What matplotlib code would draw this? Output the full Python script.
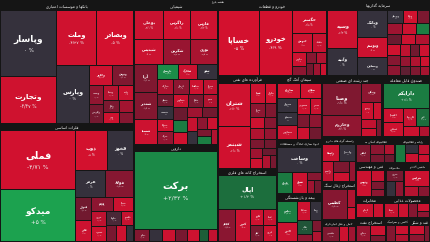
import matplotlib
matplotlib.use('Agg')
import matplotlib.pyplot as plt
from matplotlib.patches import Rectangle
import numpy as np

plt.rcParams['font.family'] = ['DejaVu Sans']

# ---------------- data (size ~ market value, change in %) ----------------
market_title = 'نقشه بازار'

bank_title = 'بانکها و موسسات اعتباری'
bank_names = ['وپاسار', 'وتجارت', 'وملت', 'وبصادر', 'وپارس', 'وخاور', 'ونوین', 'وپست',
              'وگردش', 'وسینا', 'وآیند', 'وکار', 'ودی', 'وحکمت', 'وکوثر']
bank_sizes = [3700, 2565, 2180, 2030, 1850, 460, 430, 260, 250, 220, 220, 200, 180, 160, 150]
bank_changes = [0, -4.47, -4.37, -5, 0, -4.1, -1.6, -2.1, -1.3, -3.2, -4, -1.5, -4.4, -2.6, -1.8]

metal_title = 'فلزات اساسی'
metal_names = ['فملی', 'میدکو', 'ذوب', 'فخوز', 'هرمز', 'فولاد', 'فنوال', 'فاذر', 'فجام',
               'فپنتا', 'فروی', 'فسرب', 'فلوله', 'فگستر', 'فسپا', 'فرآور', 'فتوسا']
metal_sizes = [4300, 3870, 1240, 1040, 775, 730, 370, 330, 300, 280, 230, 230, 200, 180, 150, 150, 120]
metal_changes = [-4.71, 5, -5, 0, 0, -1.8, -1.2, -4, -2, -4.2, -3.5, -4.4, -0.4, -3.8, -1.4, -4, 0]

chem_title = 'شیمیایی'
chem_names = ['بوعلی', 'زاگرس', 'فارس', 'شپدیس', 'شکربن', 'نوری', 'آریا', 'شغدیر', 'شسپا',
              'پارسان', 'شخارک', 'شفن', 'شاراک', 'کرمان', 'شپاکسا',
              'شیراز', 'شملی', 'شصدف', 'شتوکا', 'شزنگ', 'شفارس', 'شکلر', 'شجم', 'شصفها', 'شبصیر',
              'شلعاب', 'شسینا', 'شپارس', 'شرنگی', 'شفا', 'شگل', 'شکف', 'شدوص', 'شنفت', 'شوینده']
chem_sizes = [840, 780, 760, 700, 690, 650, 625, 600, 550,
              320, 300, 300, 240, 225, 210,
              200, 200, 200, 200, 200, 200, 190, 180, 170, 170,
              160, 150, 150, 140, 130, 120, 110, 100, 100, 90]
chem_changes = [-3.9, -4.6, -4.2, -4, -2.3, -2.8, -1.6, -1.7, -4,
                2.5, -4, 0, -3, -2, -4.1,
                -3.5, -1.2, 0, -4.5, -2.2, -4, -1.5, -3, -1, 1.6,
                -4.5, -2.5, -1.2, -3.8, 0, -2, -4, -1.5, 1.8, -3]

drug_title = 'دارویی'
drug_names = ['برکت', 'دجابر', 'دسبحا', 'داسوه', 'دلر', 'دفارا', 'دعبید', 'دکیمی']
drug_sizes = [6300, 180, 160, 150, 150, 140, 120, 100]
drug_changes = [2.32, -1.7, 0, -4, -1.4, -4.2, 0.8, -3.6]

auto_title = 'خودرو و قطعات'
auto_names = ['خساپا', 'خودرو', 'خگستر', 'خبهمن', 'خکمک', 'خپارس', 'خموتور', 'خریخت',
              'خزامیا', 'خمحرکه', 'خفنر', 'خکاوه']
auto_sizes = [2665, 2145, 775, 400, 265, 190, 130, 110, 100, 90, 80, 70]
auto_changes = [-5, -4.9, -4.5, -4, -3.8, -4, -2, -1.8, -3, -1.2, -2.5, -4]

invest_title = 'سرمایه گذاریها'
invest_names = ['وسپه', 'وآتیه', 'وبانک', 'وتوسم', 'ومعادن', 'وبوعلی', 'وتوکا', 'ونیرو',
                'وصنعت', 'وغدیر', 'وامید', 'ونفت', 'وسکاب', 'وبهمن', 'وسدید', 'وسمگا', 'ورنا',
                'وکغدیر', 'وشمال', 'وسنا', 'وآذر', 'وملل', 'وطوبی', 'وسخراج', 'وسرود', 'وکبهمن']
invest_sizes = [1150, 840, 815, 595, 545, 200, 190, 160, 150, 150, 140, 140, 140, 140,
                130, 130, 120, 120, 110, 110, 110, 100, 100, 90, 90, 80]
invest_changes = [-4.2, 0, 0, -4, 0, 0, -4.5, -1.5, -2.5, -4, 1.8, -1, -4, -3,
                  -4.5, -1.8, -2, -3.5, -1.2, -4, -2.2, -0.8, -3, -4.3, -1.6, -2.7]

oil_title = 'فرآورده های نفتی'
oil_names = ['شتران', 'شبندر', 'شپنا', 'شاوان', 'شراز', 'نفتا', 'ایرانول', 'شرانل', 'شلرد',
             'شنیرو', 'شگویا', 'شکام', 'شپترو', 'شفام', 'شاملا', 'شتوس', 'شجین']
oil_sizes = [1400, 1330, 306, 220, 200, 160, 150, 140, 140, 130, 130, 120, 120, 110, 100, 90, 80]
oil_changes = [-4.4, -4.6, -4, -4.5, -2, -1.6, -4, -1.8, -3, -2.2, -1.5, -1.2, -2.5, -4, -1, -3, -1.4]

ore_title = 'استخراج کانه های فلزی'
ore_names = ['اپال', 'کچاد', 'کنور', 'کگهر', 'کدما', 'کگل', 'کروی']
ore_sizes = [1940, 540, 510, 216, 216, 200, 200]
ore_changes = [1.2, -1.9, -4, -4.2, -3.8, -1.5, -4]

cement_title = 'سیمان آهک گچ'
cement_names = ['ساروم', 'سفانو', 'سبهان', 'سیدکو', 'سفارس', 'سصوفی', 'سخزر', 'ستران',
                'سشرق', 'سغرب', 'سهگمت']
cement_sizes = [342, 306, 272, 272, 270, 216, 190, 160, 150, 150, 140]
cement_changes = [-4.3, -4.5, 0, 0, -4, -4.4, -3.9, -1.5, -2, -4, -1.2]

build_title = 'انبوه سازی املاک و مستغلات'
build_names = ['وساخت', 'ثامان', 'ثشرق', 'ثنوسا', 'ثباغ', 'ثاخت']
build_sizes = [1110, 323, 306, 110, 100, 90]
build_changes = [0, 1.5, -4, -1.8, -2.5, -1.2]

insur_title = 'بیمه و بازنشستگی'
insur_names = ['بپاس', 'البرز', 'بساما', 'ودانا', 'بکاب', 'بما', 'بنو', 'بالبر']
insur_sizes = [418, 375, 266, 204, 204, 110, 100, 90]
insur_changes = [1.8, -4, -4.2, 0, 0.6, -2, -1.5, -3]

multi_title = 'چند رشته ای صنعتی'
multi_names = ['وصنا', 'وخارزم', 'ونیکی', 'وپترو', 'وسپهر', 'ومشان', 'وپویا', 'وسپا']
multi_sizes = [1260, 825, 384, 200, 150, 144, 120, 100]
multi_changes = [-1.6, -2.1, -2, -4, -4.2, -3.6, -4, -1.5]

etf_title = 'صندوق قابل معامله'
etf_names = ['دارایکم', 'اعتماد', 'آساس', 'کاریزما', 'افق', 'سرو', 'آوند']
etf_sizes = [1170, 300, 290, 240, 230, 160, 100]
etf_changes = [1.6, -4, -4.3, -3.8, 1.2, -4, -3]

fin_title = 'واسطه گری های مالی و پولی'
fin_names = ['ولساپا', 'واعتبار', 'ولصنم', 'ولملت', 'وکادو', 'ولتجار']
fin_sizes = [300, 280, 220, 180, 150, 120]
fin_changes = [-4, 0, -3.5, -1.5, -4, -2.2]

aux_title = 'فعالیتهای کمکی به نهادهای مالی'
aux_names = ['اطلس', 'آپ', 'ثبات', 'آرمان', 'کاریز']
aux_sizes = [250, 150, 120, 100, 80]
aux_changes = [-1.6, -2, -1.4, -3, -1]

it_title = 'رایانه و فعالیتهای وابسته'
it_names = ['اپرداز', 'سپ', 'رتاپ', 'مداران', 'فن آوا']
it_sizes = [180, 130, 120, 110, 90]
it_changes = [1.5, 0, -4, -3.5, -4]

eng_title = 'فنی و مهندسی'
eng_names = ['وتوس', 'بالاس', 'وبنا', 'کربن']
eng_sizes = [400, 150, 120, 86]
eng_changes = [-4, -3.8, -1.5, -2]

metalprod_title = 'محصولات فلزی'
metalprod_names = ['فنرژی', 'تاپکیش', 'تکنو']
metalprod_sizes = [200, 150, 120]
metalprod_changes = [-1.3, 0, -2]

elec_title = 'ماشین آلات و دستگاههای برقی'
elec_names = ['بترانس', 'بنیرو', 'بموتو']
elec_sizes = [420, 140, 110]
elec_changes = [-4, -3.2, -1.8]

coal_title = 'استخراج زغال سنگ'
coal_names = ['کطبس', 'کپرور', 'کزغال']
coal_sizes = [750, 150, 100]
coal_changes = [-1.8, -3, -4]

tele_title = 'مخابرات'
tele_names = ['اخابر', 'همراه']
tele_sizes = [250, 150]
tele_changes = [-4, -4.2]

food_title = 'محصولات غذایی'
food_names = ['غشاد', 'غبشهر', 'غمارگ', 'غگرجی', 'غپاک']
food_sizes = [200, 150, 120, 100, 80]
food_changes = [-3.8, -4, -1.8, -4.2, -2]

trans_title = 'حمل و نقل انبارداری'
trans_names = ['حکشتی', 'حفارس', 'حتوکا']
trans_sizes = [250, 150, 100]
trans_changes = [-1.6, -4, -2.5]

oilx_title = 'استخراج نفت'
oilx_names = ['حفاری', 'وانفت', 'اوان']
oilx_sizes = [220, 150, 100]
oilx_changes = [-2.3, -4, -1.5]

ceramic_title = 'کاشی و سرامیک'
ceramic_names = ['کساوه', 'کسعدی', 'کحافظ']
ceramic_sizes = [150, 120, 100]
ceramic_changes = [-1.7, -4, -3]

sugar_title = 'قند و شکر'
sugar_names = ['قثابت', 'قشکر', 'قنیشا']
sugar_sizes = [130, 110, 90]
sugar_changes = [-4, -2, -1.5]

sectors = {
    'bank': (bank_title, bank_names, bank_sizes, bank_changes),
    'metal': (metal_title, metal_names, metal_sizes, metal_changes),
    'chem': (chem_title, chem_names, chem_sizes, chem_changes),
    'drug': (drug_title, drug_names, drug_sizes, drug_changes),
    'auto': (auto_title, auto_names, auto_sizes, auto_changes),
    'invest': (invest_title, invest_names, invest_sizes, invest_changes),
    'oil': (oil_title, oil_names, oil_sizes, oil_changes),
    'ore': (ore_title, ore_names, ore_sizes, ore_changes),
    'cement': (cement_title, cement_names, cement_sizes, cement_changes),
    'build': (build_title, build_names, build_sizes, build_changes),
    'insur': (insur_title, insur_names, insur_sizes, insur_changes),
    'multi': (multi_title, multi_names, multi_sizes, multi_changes),
    'etf': (etf_title, etf_names, etf_sizes, etf_changes),
    'fin': (fin_title, fin_names, fin_sizes, fin_changes),
    'aux': (aux_title, aux_names, aux_sizes, aux_changes),
    'it': (it_title, it_names, it_sizes, it_changes),
    'eng': (eng_title, eng_names, eng_sizes, eng_changes),
    'metalprod': (metalprod_title, metalprod_names, metalprod_sizes, metalprod_changes),
    'elec': (elec_title, elec_names, elec_sizes, elec_changes),
    'coal': (coal_title, coal_names, coal_sizes, coal_changes),
    'tele': (tele_title, tele_names, tele_sizes, tele_changes),
    'food': (food_title, food_names, food_sizes, food_changes),
    'trans': (trans_title, trans_names, trans_sizes, trans_changes),
    'oilx': (oilx_title, oilx_names, oilx_sizes, oilx_changes),
    'ceramic': (ceramic_title, ceramic_names, ceramic_sizes, ceramic_changes),
    'sugar': (sugar_title, sugar_names, sugar_sizes, sugar_changes),
}

# how the sectors are grouped ('h' = side by side, 'v' = stacked)
groups = ('h', [
    ('v', ['bank', 'metal']),
    ('v', ['chem', 'drug']),
    ('v', [
        ('h', ['auto', 'invest']),
        ('h', [
            ('v', ['oil', 'ore']),
            ('v', ['cement', 'build', 'insur']),
            ('v', [
                ('h', ['multi', 'etf']),
                ('h', [
                    ('v', ['fin', 'coal', 'trans']),
                    ('v', [('h', ['aux', 'it']),
                           ('h', ['eng', 'metalprod', 'elec']),
                           ('h', ['tele', 'food']),
                           ('h', ['oilx', 'ceramic', 'sugar'])]),
                ]),
            ]),
        ]),
    ]),
])
first_strip = {'oil': 'col'}

# ---------------- persian shaping (matplotlib has no bidi) ----------------
_forms = {
    'آ': (0xFE81, 0xFE82, None, None), 'أ': (0xFE83, 0xFE84, None, None),
    'ؤ': (0xFE85, 0xFE86, None, None), 'ئ': (0xFE89, 0xFE8A, 0xFE8B, 0xFE8C),
    'ا': (0xFE8D, 0xFE8E, None, None), 'ب': (0xFE8F, 0xFE90, 0xFE91, 0xFE92),
    'ة': (0xFE93, 0xFE94, None, None), 'ت': (0xFE95, 0xFE96, 0xFE97, 0xFE98),
    'ث': (0xFE99, 0xFE9A, 0xFE9B, 0xFE9C), 'ج': (0xFE9D, 0xFE9E, 0xFE9F, 0xFEA0),
    'ح': (0xFEA1, 0xFEA2, 0xFEA3, 0xFEA4), 'خ': (0xFEA5, 0xFEA6, 0xFEA7, 0xFEA8),
    'د': (0xFEA9, 0xFEAA, None, None), 'ذ': (0xFEAB, 0xFEAC, None, None),
    'ر': (0xFEAD, 0xFEAE, None, None), 'ز': (0xFEAF, 0xFEB0, None, None),
    'س': (0xFEB1, 0xFEB2, 0xFEB3, 0xFEB4), 'ش': (0xFEB5, 0xFEB6, 0xFEB7, 0xFEB8),
    'ص': (0xFEB9, 0xFEBA, 0xFEBB, 0xFEBC), 'ض': (0xFEBD, 0xFEBE, 0xFEBF, 0xFEC0),
    'ط': (0xFEC1, 0xFEC2, 0xFEC3, 0xFEC4), 'ظ': (0xFEC5, 0xFEC6, 0xFEC7, 0xFEC8),
    'ع': (0xFEC9, 0xFECA, 0xFECB, 0xFECC), 'غ': (0xFECD, 0xFECE, 0xFECF, 0xFED0),
    'ف': (0xFED1, 0xFED2, 0xFED3, 0xFED4), 'ق': (0xFED5, 0xFED6, 0xFED7, 0xFED8),
    'ك': (0xFED9, 0xFEDA, 0xFEDB, 0xFEDC), 'ل': (0xFEDD, 0xFEDE, 0xFEDF, 0xFEE0),
    'م': (0xFEE1, 0xFEE2, 0xFEE3, 0xFEE4), 'ن': (0xFEE5, 0xFEE6, 0xFEE7, 0xFEE8),
    'ه': (0xFEE9, 0xFEEA, 0xFEEB, 0xFEEC), 'و': (0xFEED, 0xFEEE, None, None),
    'ي': (0xFEF1, 0xFEF2, 0xFEF3, 0xFEF4), 'پ': (0xFB56, 0xFB57, 0xFB58, 0xFB59),
    'چ': (0xFB7A, 0xFB7B, 0xFB7C, 0xFB7D), 'ژ': (0xFB8A, 0xFB8B, None, None),
    'ک': (0xFB8E, 0xFB8F, 0xFB90, 0xFB91), 'گ': (0xFB92, 0xFB93, 0xFB94, 0xFB95),
    'ی': (0xFBFC, 0xFBFD, 0xFBFE, 0xFBFF),
}
_lamalef = {'ا': (0xFEFB, 0xFEFC), 'آ': (0xFEF5, 0xFEF6)}


def joins_next(c):
    return c in _forms and _forms[c][2] is not None


def shape(text):
    out = []
    i = 0
    while i < len(text):
        c = text[i]
        prev = text[i - 1] if i > 0 else ''
        nxt = text[i + 1] if i + 1 < len(text) else ''
        p = joins_next(prev)
        if c == 'ل' and nxt in _lamalef:
            out.append(chr(_lamalef[nxt][1 if p else 0]))
            i += 2
            continue
        if c not in _forms:
            out.append(c)
            i += 1
            continue
        iso, fin, ini, med = _forms[c]
        q = ini is not None and nxt in _forms
        g = med if (p and q) else fin if p else ini if q else iso
        out.append(chr(g))
        i += 1
    return ''.join(reversed(out))


def fa_pct(v):
    if v == 0:
        return '۰ %'
    s = f'{abs(v):g}'.replace('.', '/')
    s = s.translate(str.maketrans('0123456789', '۰۱۲۳۴۵۶۷۸۹'))
    return ('+' if v > 0 else '-') + s + ' %'


# ---------------- colours ----------------
stops = [-5, -4, -3, -2, -1, 0, 0.7, 1.5, 2.5, 5]
stop_cols = ['#d3112e', '#cc1230', '#b01330', '#8d1631', '#6a1a2f', '#35313c',
             '#1d5a37', '#1b7a41', '#1b8c48', '#1ca24f']
stop_rgb = np.array([matplotlib.colors.to_rgb(c) for c in stop_cols])


def colour(v):
    return tuple(np.interp(v, stops, stop_rgb[:, k]) for k in range(3))


# ---------------- layout ----------------
W, H = 430, 242
TOP = 3.0
HEAD = 7.0


def weight(node, widths):
    if isinstance(node, str):
        return sum(sectors[node][2]) + HEAD * widths.get(node, 0)
    return sum(weight(k, widths) for k in node[1])


def place(node, x, y, w, h, out, widths):
    if isinstance(node, str):
        out[node] = (x, y, w, h)
        return
    d, kids = node
    ws = [weight(k, widths) for k in kids]
    tot = sum(ws)
    for k, wt in zip(kids, ws):
        if d == 'h':
            kw = w * wt / tot
            place(k, x, y, kw, h, out, widths)
            x += kw
        else:
            kh = h * wt / tot
            place(k, x, y, w, kh, out, widths)
            y += kh


def worst(row, short):
    s = sum(row)
    return max(max(short * short * r / (s * s), s * s / (short * short * r)) for r in row)


def squarify(vals, x, y, w, h, first=None):
    tot = sum(vals)
    areas = [v * w * h / tot for v in vals]
    rects = []
    i = 0
    while i < len(areas):
        vertical = (w >= h) if first is None else (first == 'col')
        first = None
        short = h if vertical else w
        row = [areas[i]]
        j = i + 1
        while j < len(areas) and worst(row + [areas[j]], short) <= worst(row, short):
            row.append(areas[j])
            j += 1
        s = sum(row)
        if vertical:
            cw = s / h
            yy = y
            for a in row:
                rects.append((x, yy, cw, a / cw))
                yy += a / cw
            x += cw
            w -= cw
        else:
            rh = s / w
            xx = x
            for a in row:
                rects.append((xx, y, a / rh, rh))
                xx += a / rh
            y += rh
            h -= rh
        i = j
    return rects


def fit_header(title, width):
    # shrink, then drop trailing words, until the header fits its sector
    words = title.split()
    fs = 2.8
    est = lambda ws, f: len(' '.join(ws)) * 0.5 * f * 1.39
    while fs > 2.1 and est(words, fs) > width - 3:
        fs -= 0.1
    while len(words) > 1 and est(words, fs) > width - 3:
        words = words[:-1]
    return ' '.join(words), fs


widths = {}
boxes = {}
for _ in range(6):
    boxes = {}
    place(groups, 0, TOP, W, H - TOP, boxes, widths)
    widths = {k: b[2] for k, b in boxes.items()}

# ---------------- draw ----------------
bg = '#151515'
fig = plt.figure(figsize=(4.3, 2.42), dpi=100, facecolor=bg)
ax = fig.add_axes([0, 0, 1, 1])
ax.set_facecolor(bg)
ax.set_xlim(0, W)
ax.set_ylim(H, 0)
ax.axis('off')

ax.text(W / 2 + 3, 1.7, shape(market_title), color='white', fontsize=2.2,
        ha='center', va='center')

for key, (sx, sy, sw, sh) in boxes.items():
    title, names, sizes, changes = sectors[key]
    head, hfs = fit_header(title, sw)
    ax.text(sx + sw / 2, sy + HEAD / 2 + 0.2, shape(head), color='white',
            fontsize=hfs, ha='center', va='center')

    rects = squarify(sizes, sx + 0.6, sy + HEAD, sw - 1.2, sh - HEAD - 0.6,
                     first_strip.get(key))
    for (rx, ry, rw, rh), name, chg in zip(rects, names, changes):
        ax.add_patch(Rectangle((rx + 0.5, ry + 0.5), max(rw - 1, 0.1), max(rh - 1, 0.1),
                               facecolor=colour(chg), edgecolor='none'))
        fs = min(np.sqrt(rw * rh) / 9.5, 7.2, 1.15 * rw / len(name), 0.3 * rh)
        if fs < 1.4 or rw < 7:
            continue
        cx, cy = rx + rw / 2, ry + rh / 2
        ax.text(cx, cy - 0.45 * fs * 1.39, shape(name), color='white', fontsize=fs,
                fontweight='bold', ha='center', va='center')
        ax.text(cx, cy + 0.75 * fs * 1.39, fa_pct(chg), color='#eeeeee',
                fontsize=fs * 0.62, ha='center', va='center')

fig.savefig('out.png', dpi=100, facecolor=bg)
